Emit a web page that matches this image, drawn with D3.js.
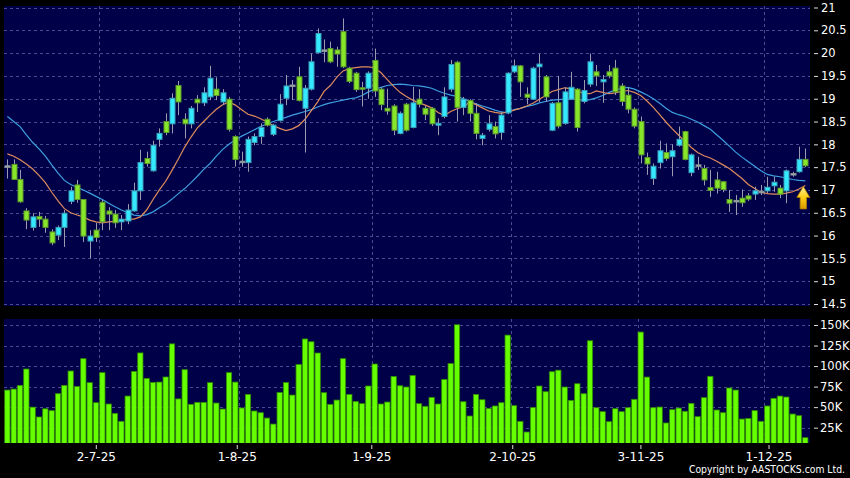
<!DOCTYPE html>
<html><head><meta charset="utf-8">
<script src="https://cdn.jsdelivr.net/npm/d3@7"></script>
<style>html,body{margin:0;padding:0;background:#000;}svg{display:block;}</style>
</head><body>
<svg id="chart" width="850" height="478"></svg>
<script>
const openP = [17.53,17.56,17.23,16.54,16.18,16.42,16.36,16.08,16.01,16.18, 16.75,17.11,16.79,15.88,16.12,16.73,16.54,16.47,16.30,16.32, 16.54,16.98,17.69,17.42,18.11,18.50,18.45,19.29,18.55,18.45, 18.99,18.91,19.04,19.21,18.93,18.99,18.17,17.63,17.60,18.04, 18.17,18.55,18.22,18.52,19.01,19.30,19.48,18.79,19.21,20.01, 20.07,20.10,20.07,20.47,19.67,19.56,19.24,19.23,19.84,19.21, 18.79,18.84,18.24,18.88,18.37,18.99,18.79,18.79,18.42,18.61, 19.21,19.80,18.81,18.96,18.68,18.13,18.33,18.39,18.26,18.69, 19.59,19.72,19.10,18.99,19.70,19.48,18.31,18.91,18.46,18.99, 19.21,18.94,19.32,19.59,19.37,19.59,19.67,19.28,19.08,18.77, 18.50,17.71,17.25,17.60,17.82,17.73,17.98,18.28,17.38,17.55, 17.47,17.05,17.22,17.18,16.79,16.77,16.82,16.87,16.91,16.97, 16.98,17.09,17.04,16.98,17.36,17.40,17.67];
const closeP = [17.53,17.23,16.74,16.34,16.41,16.36,16.18,15.84,16.18,16.49, 16.98,16.79,15.99,15.99,15.96,16.30,16.47,16.28,16.36,16.56, 16.98,17.60,17.58,17.98,18.24,18.26,19.01,18.93,18.45,18.79, 18.91,19.13,19.45,19.07,19.13,18.33,17.67,17.63,18.11,18.17, 18.37,18.42,18.42,18.88,19.28,19.30,18.96,19.23,19.81,20.43, 20.07,19.81,19.98,19.70,19.38,19.20,19.21,19.56,19.17,18.87, 18.73,18.31,18.68,18.31,18.91,18.88,18.66,18.45,18.46,19.04, 19.75,18.81,18.99,18.68,18.24,18.20,18.45,18.23,18.64,19.56, 19.72,19.37,19.03,19.67,19.76,19.04,18.90,18.40,19.15,19.25, 18.37,19.18,19.81,19.50,19.42,19.50,19.15,18.94,18.77,18.40, 17.77,17.57,17.52,17.86,17.69,17.86,18.11,17.67,17.77,17.55, 17.22,16.99,17.04,17.01,16.71,16.77,16.72,16.80,16.98,16.97, 17.06,17.17,16.91,17.42,17.36,17.67,17.53];
const highP = [17.67,17.67,17.44,16.60,16.49,16.52,16.43,16.14,16.22,16.56, 17.07,17.22,16.80,16.12,16.28,16.78,16.62,16.56,16.45,16.69, 17.16,17.88,17.84,18.08,18.35,18.68,19.12,19.39,18.68,18.84, 19.08,19.25,19.72,19.47,19.21,19.04,18.20,17.84,18.17,18.24, 18.46,18.59,18.45,19.10,19.52,19.41,19.70,19.30,19.99,20.54, 20.30,20.25,20.14,20.76,19.70,19.59,19.37,19.60,20.10,19.25, 19.22,18.88,18.72,18.91,19.26,19.21,18.84,18.82,18.57,19.25, 19.85,19.83,19.04,18.99,18.90,18.25,18.64,18.50,18.72,19.58, 19.86,19.74,19.25,19.70,19.98,19.52,18.93,19.50,19.25,19.59, 19.23,19.41,19.99,19.74,19.52,19.74,19.85,19.34,19.25,18.81, 18.61,17.82,17.58,18.08,18.02,18.00,18.39,18.30,17.80,17.73, 17.55,17.44,17.40,17.20,17.00,16.89,17.01,16.93,17.07,17.11, 17.29,17.29,17.11,17.45,17.40,17.95,17.91];
const lowP = [17.25,17.22,16.72,16.14,16.11,16.19,16.06,15.79,15.90,15.75, 16.69,16.72,15.86,15.50,15.86,16.12,16.12,16.17,16.12,16.25, 16.52,16.78,17.51,17.40,17.95,18.20,18.24,18.64,18.13,18.35, 18.71,18.84,18.97,18.97,18.86,18.28,17.51,17.51,17.40,17.98, 18.01,18.39,18.18,18.50,18.86,18.97,18.94,17.82,19.18,19.99, 19.80,19.78,19.70,19.67,19.34,19.15,18.83,19.00,19.04,18.75, 18.65,18.20,18.22,18.28,18.35,18.81,18.53,18.40,18.20,18.57, 19.15,18.50,18.64,18.50,18.11,17.98,18.28,18.13,18.10,18.66, 19.56,19.04,18.88,18.97,18.93,18.93,18.29,18.35,18.43,18.97, 18.28,18.90,19.26,19.28,18.91,19.45,19.08,18.84,18.68,18.35, 17.58,17.33,17.11,17.47,17.64,17.30,17.95,17.65,17.30,17.44, 17.10,16.85,16.92,16.95,16.52,16.45,16.63,16.76,16.78,16.89, 16.93,16.96,16.82,16.71,17.29,17.38,17.50];
const volumeK = [70.8,72,76.5,96.4,50,38,48,45.7,66.4,76.5, 94,75.2,109,79.8,55.4,92,53.8,42.4,32.7,63.5, 93.5,116,85,80,80.5,86.7,127,60,95.6,53.4, 55.8,55.8,79.8,55,47.7,92,80.5,49,65.5,45.3, 43.2,36.7,29.4,67.8,80,64.7,102,133,129.6,115.9, 67.6,53.4,58.6,109,65.5,56.9,54.2,75.7,102.5,53.8, 56.2,87.4,76,74.5,88.6,54.2,51,61.9,53.8,83.8, 103,150.3,56.6,39.2,65.5,59,48.5,51.4,55.4,137.7, 51.8,32.7,19.7,49.4,75.7,68.8,93.1,95,74.5,58.2, 78.5,66.3,130.8,49.3,44.5,32.3,48.1,44.5,49.3,59.5, 141.4,86.6,49.3,50.1,30.7,46.9,48.9,44.9,54.6,38.4, 61.5,87.5,46.5,43.2,73.3,70.8,35.5,36.3,45.7,32.7, 51.4,60.7,63.5,62.3,41.6,39.6,12.8];
const ma10 = [17.79,17.74,17.66,17.57,17.46,17.32,17.16,16.95,16.76,16.59, 16.50,16.45,16.41,16.34,16.30,16.28,16.30,16.31,16.33,16.36, 16.36,16.41,16.56,16.79,17.00,17.19,17.43,17.68,17.94,18.16, 18.36,18.50,18.64,18.77,18.87,18.93,18.86,18.76,18.66,18.62, 18.56,18.49,18.41,18.35,18.30,18.34,18.41,18.55,18.74,18.93, 19.16,19.29,19.47,19.61,19.66,19.68,19.70,19.70,19.68,19.57, 19.42,19.27,19.14,19.05,18.97,18.91,18.86,18.80,18.70,18.63, 18.72,18.78,18.82,18.93,18.87,18.80,18.73,18.70,18.68,18.71, 18.75,18.79,18.84,18.90,18.99,19.07,19.16,19.20,19.24,19.22, 19.18,19.11,19.11,19.17,19.14,19.11,19.13,19.16,19.18,19.14, 19.07,18.95,18.81,18.65,18.49,18.34,18.20,18.06,17.93,17.82, 17.75,17.70,17.63,17.55,17.47,17.36,17.25,17.12,17.03,16.95, 16.92,16.91,16.91,16.93,16.96,17.02,17.10];
const ma20 = [18.61,18.50,18.39,18.21,18.04,17.90,17.74,17.55,17.37,17.21, 17.12,17.06,17.00,16.93,16.86,16.79,16.71,16.63,16.56,16.50, 16.45,16.43,16.46,16.52,16.61,16.69,16.80,16.92,17.03,17.16, 17.30,17.45,17.58,17.74,17.89,18.00,18.10,18.18,18.25,18.32, 18.39,18.45,18.50,18.55,18.59,18.64,18.68,18.72,18.76,18.82, 18.87,18.91,18.94,18.97,19.00,19.02,19.07,19.15,19.21,19.25, 19.29,19.31,19.32,19.31,19.29,19.28,19.26,19.23,19.17,19.12, 19.08,19.05,19.00,18.94,18.89,18.84,18.80,18.75,18.71,18.69, 18.76,18.79,18.83,18.86,18.91,18.94,18.97,18.98,18.99,19.00, 18.99,18.96,18.98,19.02,19.07,19.14,19.19,19.23,19.25,19.21, 19.15,19.08,19.00,18.90,18.79,18.70,18.65,18.61,18.55,18.49, 18.41,18.33,18.21,18.09,17.96,17.83,17.72,17.62,17.52,17.42, 17.34,17.31,17.29,17.26,17.23,17.21,17.20];
const dateTickIndex = [15, 37, 58, 80, 100, 120];
const dateTickLabels = ["2-7-25", "1-8-25", "1-9-25", "2-10-25", "3-11-25", "1-12-25"];
const priceTicks = [14.5,15,15.5,16,16.5,17,17.5,18,18.5,19,19.5,20,20.5,21];
const volumeTicks = [25,50,75,100,125,150];
const volumeTickLabels = ["25K","50K","75K","100K","125K","150K"];

const svg = d3.select("#chart");
const n = openP.length;
const idx = d3.range(n);
const FONT = "DejaVu Sans, Verdana, sans-serif";

const main = {x0: 4, x1: 810, y0: 6, y1: 306};
const vol = {x0: 4, x1: 810, y0: 319, y1: 443};

const x = d3.scaleBand().domain(idx).range([4.2, 4.2 + n * 6.333]).padding(0);
const xAxisScale = d3.scaleBand().domain(idx).range([0.2, 0.2 + n * 6.407]).padding(0);
const y = d3.scaleLinear().domain([14.5, 21]).range([304, 7.5]);
const yv = d3.scaleLinear().domain([0, 150]).range([448.2, 325]);
const cx = i => x(i) + x.bandwidth() / 2;

svg.append("rect").attr("width", 850).attr("height", 478).attr("fill", "#000");

const defs = svg.append("defs");
defs.append("clipPath").attr("id", "clipMain").append("rect")
  .attr("x", main.x0).attr("y", main.y0).attr("width", main.x1 - main.x0).attr("height", main.y1 - main.y0);
defs.append("clipPath").attr("id", "clipVol").append("rect")
  .attr("x", vol.x0).attr("y", vol.y0).attr("width", vol.x1 - vol.x0).attr("height", vol.y1 - vol.y0);
const grad = defs.append("linearGradient").attr("id", "arrowGrad").attr("x1", 0).attr("y1", 0).attr("x2", 0).attr("y2", 1);
grad.append("stop").attr("offset", "0%").attr("stop-color", "#fff2a0");
grad.append("stop").attr("offset", "45%").attr("stop-color", "#ffd21a");
grad.append("stop").attr("offset", "100%").attr("stop-color", "#d99a00");

const BG = "#000048";
const GRID = "#4a4a90";
svg.append("rect").attr("x", main.x0).attr("y", main.y0).attr("width", main.x1 - main.x0).attr("height", main.y1 - main.y0).attr("fill", BG);
svg.append("rect").attr("x", vol.x0).attr("y", vol.y0).attr("width", vol.x1 - vol.x0).attr("height", vol.y1 - vol.y0).attr("fill", BG);

// grids
const gMain = svg.append("g").attr("clip-path", "url(#clipMain)");
gMain.selectAll("line.h").data(priceTicks).join("line")
  .attr("x1", main.x0).attr("x2", main.x1)
  .attr("y1", d => Math.round(y(d)) + 0.5).attr("y2", d => Math.round(y(d)) + 0.5)
  .attr("stroke", GRID).attr("stroke-dasharray", "3,3").attr("stroke-width", 1);
gMain.selectAll("line.v").data(dateTickIndex).join("line")
  .attr("x1", d => Math.round(x(d)) + 0.5).attr("x2", d => Math.round(x(d)) + 0.5)
  .attr("y1", main.y0).attr("y2", main.y1)
  .attr("stroke", GRID).attr("stroke-dasharray", "3,3").attr("stroke-width", 1);

const gVol = svg.append("g").attr("clip-path", "url(#clipVol)");
gVol.selectAll("line.h").data(volumeTicks).join("line")
  .attr("x1", vol.x0).attr("x2", vol.x1)
  .attr("y1", d => Math.round(yv(d)) + 0.5).attr("y2", d => Math.round(yv(d)) + 0.5)
  .attr("stroke", GRID).attr("stroke-dasharray", "3,3").attr("stroke-width", 1);
gVol.selectAll("line.v").data(dateTickIndex).join("line")
  .attr("x1", d => Math.round(x(d)) + 0.5).attr("x2", d => Math.round(x(d)) + 0.5)
  .attr("y1", vol.y0).attr("y2", vol.y1)
  .attr("stroke", GRID).attr("stroke-dasharray", "3,3").attr("stroke-width", 1);

// volume bars
gVol.selectAll("rect.vb").data(idx).join("rect")
  .attr("x", i => x(i) + 0.5).attr("width", 5.3)
  .attr("y", i => yv(volumeK[i])).attr("height", i => yv(0) - yv(volumeK[i]))
  .attr("fill", "#66ff00").attr("stroke", "#2f8a00").attr("stroke-width", 0.8);

// moving averages
const line = arr => d3.line().x((d, i) => cx(i)).y(d => y(d))(arr);
gMain.append("path").attr("d", line(ma20)).attr("fill", "none").attr("stroke", "#3d9fe0").attr("stroke-width", 1.2);
gMain.append("path").attr("d", line(ma10)).attr("fill", "none").attr("stroke", "#df8c5c").attr("stroke-width", 1.2);

// candles
const colorOf = i => closeP[i] > openP[i] ? "up" : (closeP[i] < openP[i] ? "down" : "flat");
const fill = {up: "#33e8ff", down: "#88e62a", flat: "#a8b4b4"};
const stroke = {up: "#3a9fb8", down: "#5c9a2a", flat: "#8a9696"};
const candles = gMain.selectAll("g.c").data(idx).join("g");
candles.append("line")
  .attr("x1", i => Math.round(cx(i)) + 0.5).attr("x2", i => Math.round(cx(i)) + 0.5)
  .attr("y1", i => y(highP[i])).attr("y2", i => y(lowP[i]))
  .attr("stroke", "#9a9ab0").attr("stroke-width", 1);
candles.append("rect")
  .attr("x", i => Math.round(cx(i)) - 2)
  .attr("width", 5)
  .attr("y", i => y(Math.max(openP[i], closeP[i])))
  .attr("height", i => Math.max(1.5, Math.abs(y(openP[i]) - y(closeP[i]))))
  .attr("fill", i => fill[colorOf(i)]).attr("stroke", i => stroke[colorOf(i)]).attr("stroke-width", 1);

// arrow marker at last candle, tip at last short MA
const ax = cx(n - 1) - 2, ay = y(ma10[n - 1]) + 1;
svg.append("path")
  .attr("d", `M${ax},${ay} l6.5,11 h-3.3 v11.5 h-6.4 v-11.5 h-3.3 z`)
  .attr("fill", "url(#arrowGrad)").attr("stroke", "#b07800").attr("stroke-width", 0.8);

// right axes
const gY = svg.append("g").attr("transform", `translate(814,0)`);
gY.call(d3.axisRight(y).tickValues(priceTicks).tickSize(4).tickPadding(3).tickFormat(d3.format("")));
const gYV = svg.append("g").attr("transform", `translate(814,0)`);
gYV.call(d3.axisRight(yv).tickValues(volumeTicks).tickSize(4).tickPadding(2).tickFormat((d, i) => volumeTickLabels[i]));
[gY, gYV].forEach(g => {
  g.select(".domain").remove();
  g.selectAll(".tick line").attr("stroke", "#ddd");
  g.selectAll(".tick text").attr("fill", "#fff").attr("font-family", FONT).attr("font-size", 11.5);
});

// bottom date axis
const gX = svg.append("g").attr("transform", `translate(0,445)`);
gX.call(d3.axisBottom(xAxisScale).tickValues(dateTickIndex).tickSize(4).tickPadding(3)
  .tickFormat((d, i) => dateTickLabels[i]));
gX.select(".domain").remove();
gX.selectAll(".tick").attr("transform", d => `translate(${xAxisScale(d)},0)`);
gX.selectAll(".tick line").attr("stroke", "#ddd");
gX.selectAll(".tick text").attr("fill", "#fff").attr("font-family", FONT).attr("font-size", 12);

svg.append("text").attr("x", 845).attr("y", 473).attr("text-anchor", "end")
  .attr("fill", "#fff").attr("font-family", "DejaVu Sans Condensed, DejaVu Sans, sans-serif").attr("font-size", 10.3)
  .text("Copyright by AASTOCKS.com Ltd.");
</script>
</body></html>
